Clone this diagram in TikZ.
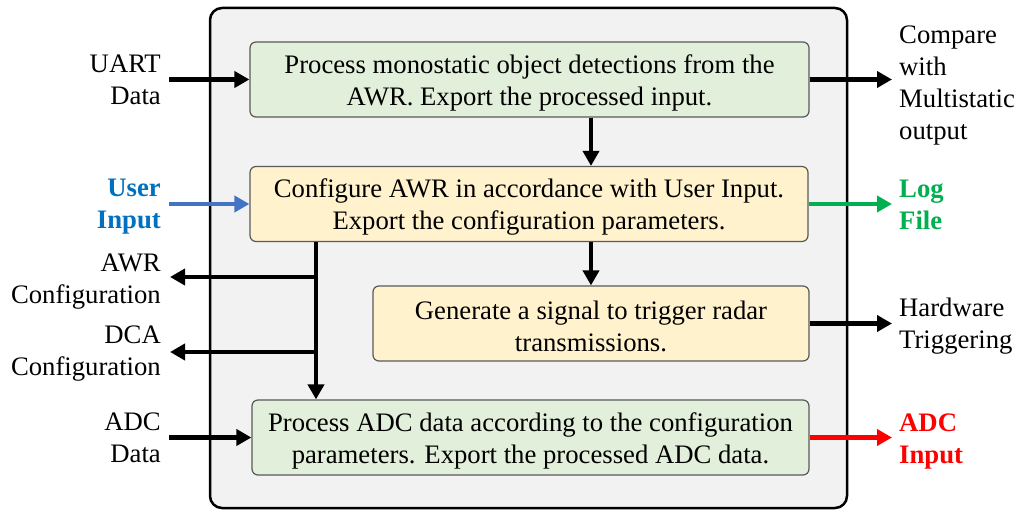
\documentclass[tikz,border=0pt]{standalone}
\usepackage{fontspec}
\setmainfont{Liberation Serif}
\newfontfamily\diagfont{Liberation Serif}
\usetikzlibrary{arrows.meta,calc}

\definecolor{procgreen}{HTML}{E2EFDA}
\definecolor{cfgyellow}{HTML}{FFF2CC}
\definecolor{panelgray}{HTML}{F2F2F2}
\definecolor{boxedge}{HTML}{595959}
\definecolor{userblue}{HTML}{0070C0}
\definecolor{userarrow}{HTML}{4472C4}
\definecolor{loggreen}{HTML}{00B050}
\definecolor{adcred}{HTML}{FF0000}

% taller first line so the two-line box text sits slightly low
\newcommand\firstline{\rule{0pt}{25pt}}

\tikzset{
  txt/.style={font=\diagfont\fontsize{26.7}{32}\selectfont},
  boldtxt/.style={font=\diagfont\fontsize{26.7}{32}\selectfont\bfseries},
  stagebox/.style={txt, draw=boxedge, line width=1.2pt, rounded corners=6pt,
    minimum height=75pt, align=center, inner sep=0pt},
  greenbox/.style={stagebox, fill=procgreen},
  yellowbox/.style={stagebox, fill=cfgyellow},
  flow/.style={line width=4.5pt, -{Triangle[length=15pt,width=16pt]}},
  lbl/.style={txt, inner sep=0pt},
  leftlbl/.style={lbl, anchor=north east, align=right},
  rightlbl/.style={lbl, anchor=north west, align=left},
}

\begin{document}
\begin{tikzpicture}[x=1pt,y=-1pt]
\useasboundingbox (0,0) rectangle (1019,510);

% enclosing panel
\draw[line width=2.5pt, fill=panelgray, rounded corners=12pt] (210,8) rectangle (847,508);

% processing stages
\node[greenbox, minimum width=559pt] (b1) at (529.5,79.5)
  {\firstline Process monostatic object detections from the\\AWR. Export the processed input.};
\node[yellowbox, minimum width=558pt] (b2) at (529,204)
  {\firstline Configure AWR in accordance with User Input.\\Export the configuration parameters.};
\node[yellowbox, minimum width=436pt] (b3) at (591,323.5)
  {\firstline Generate a signal to trigger radar\\transmissions.};
\node[greenbox, minimum width=557pt] (b4) at (530.5,437.5)
  {\firstline Process ADC data according to the configuration\\parameters. Export the processed ADC data.};

% external inputs and outputs
\coordinate (uart) at (169,79.5);
\coordinate (user) at (169,204);
\coordinate (adcin) at (169,437.5);
\coordinate (awr) at (170,277);
\coordinate (dca) at (170,352);
\coordinate (tap) at (316,277);
\coordinate (cmp) at (892,79.5);
\coordinate (log) at (892,204);
\coordinate (hw) at (892,323.5);
\coordinate (adcout) at (892,437.5);

\node[leftlbl] (luart) at (161,54.3) {UART\\Data};
\node[leftlbl, boldtxt, text=userblue] (luser) at (161,179) {User\\Input};
\node[leftlbl] (lawr) at (161,253.3) {AWR\\Configuration};
\node[leftlbl] (ldca) at (161,325.3) {DCA\\Configuration};
\node[leftlbl] (ladc) at (161,412.3) {ADC\\Data};

\node[rightlbl] (lcmp) at (899,26) {Compare\\with\\Multistatic\\output};
\node[rightlbl, boldtxt, text=loggreen] (llog) at (899,180) {Log\\File};
\node[rightlbl] (lhw) at (899,298) {Hardware\\Triggering};
\node[rightlbl, boldtxt, text=adcred] (ladcout) at (899,414) {ADC\\Input};

% connectors
\draw[flow] (uart) -- (b1.west);
\draw[flow, userarrow] (user) -- (b2.west);
\draw[flow] (adcin) -- (b4.west);

\draw[flow] (b1.south -| b3.north) -- (b2.north -| b3.north);
\draw[flow] (b2.south -| b3.north) -- (b3.north);

\draw[flow] (b2.south -| tap) -- (b4.north -| tap);
\draw[flow] (tap) -- (awr);
\draw[flow] (dca -| tap) -- (dca);

\draw[flow] (b1.east |- cmp) -- (cmp);
\draw[flow, loggreen] (b2.east |- log) -- (log);
\draw[flow] (b3.east) -- (hw);
\draw[flow, adcred] (b4.east) -- (adcout);
\end{tikzpicture}
\end{document}
